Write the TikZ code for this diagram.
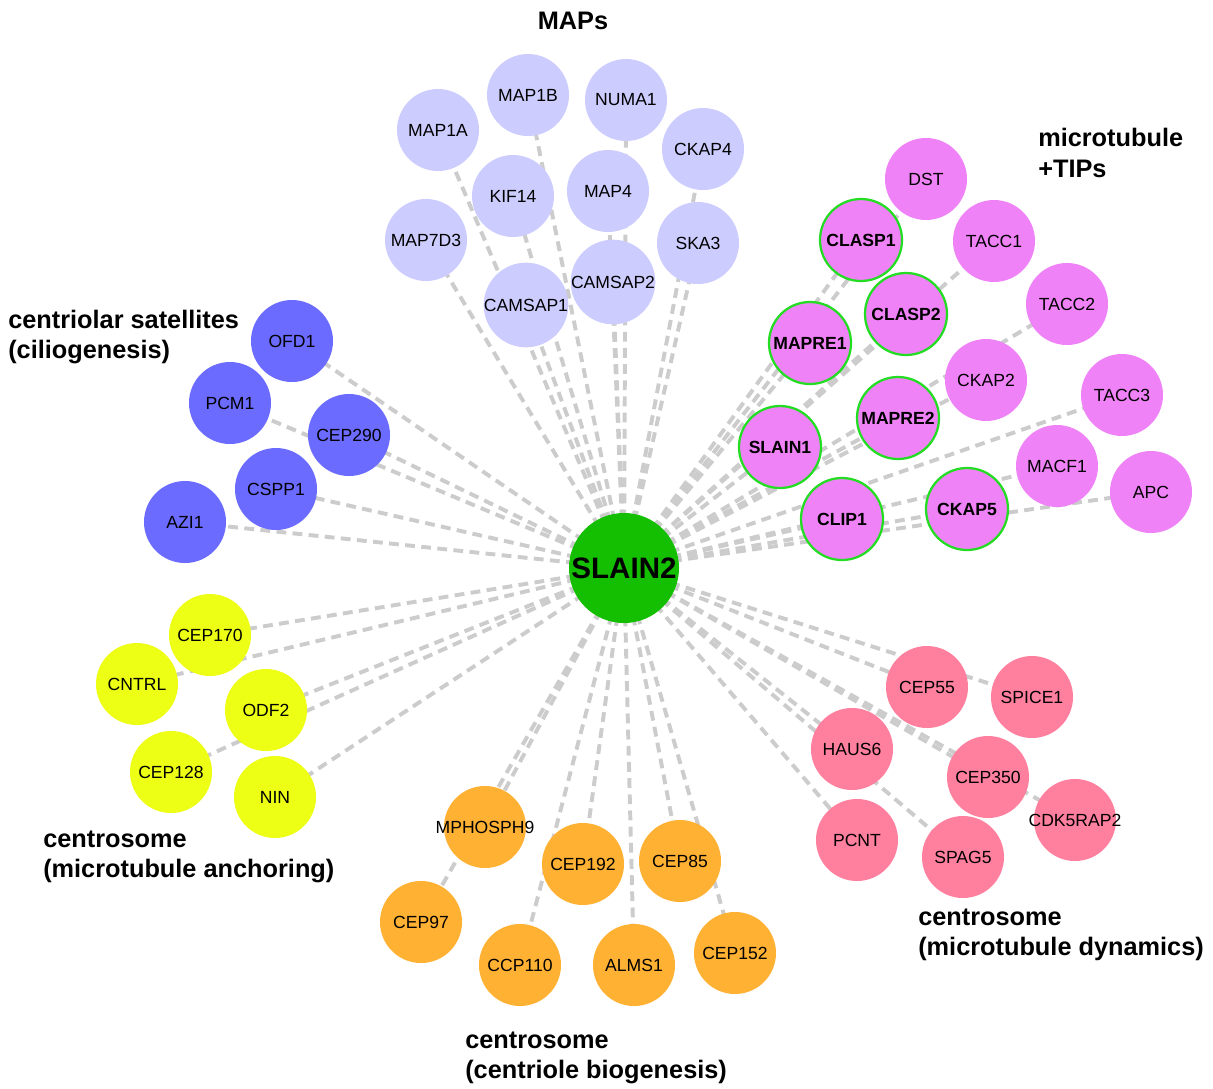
\documentclass[tikz,border=0pt]{standalone}
\usepackage{fontspec}
\setmainfont{Liberation Sans}
\usetikzlibrary{backgrounds}

\definecolor{mapcol}{HTML}{CCCCFF}
\definecolor{satcol}{HTML}{6B6BFF}
\definecolor{tipcol}{HTML}{EF82F7}
\definecolor{anccol}{HTML}{EEFF16}
\definecolor{biocol}{HTML}{FFB133}
\definecolor{dyncol}{HTML}{FF7F9E}
\definecolor{hubcol}{HTML}{14BE00}
\definecolor{ringcol}{HTML}{22DD22}
\definecolor{linkcol}{HTML}{CCCCCC}

\begin{document}
\begin{tikzpicture}
	[x=0.025cm, y=-0.025cm,
	gene/.style = {circle, inner sep=0pt, minimum size=2.05cm, font=\fontsize{12.5}{14}\selectfont},
	map/.style = {gene, fill=mapcol},
	sat/.style = {gene, fill=satcol},
	tip/.style = {gene, fill=tipcol},
	tipb/.style = {tip, draw=ringcol, line width=1.6pt, font=\fontsize{12.5}{14}\selectfont\bfseries},
	anc/.style = {gene, fill=anccol},
	bio/.style = {gene, fill=biocol},
	dyn/.style = {gene, fill=dyncol},
	hub/.style = {circle, inner sep=0pt, minimum size=2.75cm, fill=hubcol, font=\fontsize{21}{24}\selectfont\bfseries},
	link/.style = {draw=linkcol, line width=2.8pt, dash pattern=on 7pt off 4.5pt},
	group/.style = {align=left, anchor=west, inner sep=0pt, font=\fontsize{18}{21.5}\selectfont\bfseries}]
	\useasboundingbox (0,0) rectangle (1213,1088);
	\node[hub] (SLAIN2) at (624,568) {SLAIN2};
	% MAPs
	\node[map] (MAP1B) at (528,95) {MAP1B};
	\node[map] (NUMA1) at (626,100) {NUMA1};
	\node[map] (MAP1A) at (438,130) {MAP1A};
	\node[map] (CKAP4) at (703,149) {CKAP4};
	\node[map] (KIF14) at (513,196) {KIF14};
	\node[map] (MAP4) at (608,191) {MAP4};
	\node[map] (MAP7D3) at (426,240) {MAP7D3};
	\node[map] (SKA3) at (698,243) {SKA3};
	\node[map] (CAMSAP2) at (613,282) {CAMSAP2};
	\node[map] (CAMSAP1) at (526,305) {CAMSAP1};
	% centriolar satellites
	\node[sat] (OFD1) at (292,341) {OFD1};
	\node[sat] (PCM1) at (230,403) {PCM1};
	\node[sat] (CEP290) at (349,435) {CEP290};
	\node[sat] (CSPP1) at (276,489) {CSPP1};
	\node[sat] (AZI1) at (185,522) {AZI1};
	% +TIPs
	\node[tip] (DST) at (926,179) {DST};
	\node[tipb] (CLASP1) at (861,240) {CLASP1};
	\node[tip] (TACC1) at (994,241) {TACC1};
	\node[tipb] (CLASP2) at (906,314) {CLASP2};
	\node[tip] (TACC2) at (1067,304) {TACC2};
	\node[tipb] (MAPRE1) at (810,343) {MAPRE1};
	\node[tip] (CKAP2) at (986,380) {CKAP2};
	\node[tipb] (MAPRE2) at (898,418) {MAPRE2};
	\node[tip] (TACC3) at (1122,395) {TACC3};
	\node[tipb] (SLAIN1) at (780,447) {SLAIN1};
	\node[tip] (MACF1) at (1057,466) {MACF1};
	\node[tip] (APC) at (1151,492) {APC};
	\node[tipb] (CLIP1) at (842,519) {CLIP1};
	\node[tipb] (CKAP5) at (967,509) {CKAP5};
	% anchoring
	\node[anc] (CEP170) at (210,635) {CEP170};
	\node[anc] (CNTRL) at (137,684) {CNTRL};
	\node[anc] (ODF2) at (266,710) {ODF2};
	\node[anc] (CEP128) at (171,772) {CEP128};
	\node[anc] (NIN) at (275,797) {NIN};
	% biogenesis
	\node[bio] (MPHOSPH9) at (485,827) {\makebox[0pt]{MPHOSPH9}};
	\node[bio] (CEP192) at (583,864) {CEP192};
	\node[bio] (CEP85) at (680,861) {CEP85};
	\node[bio] (CEP97) at (421,922) {CEP97};
	\node[bio] (CCP110) at (520,965) {CCP110};
	\node[bio] (ALMS1) at (634,965) {ALMS1};
	\node[bio] (CEP152) at (735,953) {CEP152};
	% dynamics
	\node[dyn] (CEP55) at (927,687) {CEP55};
	\node[dyn] (SPICE1) at (1032,697) {SPICE1};
	\node[dyn] (HAUS6) at (852,749) {HAUS6};
	\node[dyn] (CEP350) at (988,777) {CEP350};
	\node[dyn] (CDK5RAP2) at (1075,820) {\makebox[0pt]{CDK5RAP2}};
	\node[dyn] (PCNT) at (857,840) {PCNT};
	\node[dyn] (SPAG5) at (963,857) {SPAG5};
	% group titles
	\node[font=\fontsize{18}{21.5}\selectfont\bfseries] (maps) at (573,21) {MAPs};
	\node[group] (tips) at (1038,153) {microtubule\\+TIPs};
	\node[group] (sats) at (8,337) {centriolar satellites\\(ciliogenesis)};
	\node[group] (ancs) at (43,857) {centrosome\\(microtubule anchoring)};
	\node[group] (bios) at (465,1058) {centrosome\\(centriole biogenesis)};
	\node[group] (dyns) at (918,935) {centrosome\\(microtubule dynamics)};
	\begin{scope}[on background layer]
	\draw[link] (SLAIN2.center) -- (MAP1B.center);
	\draw[link] (SLAIN2.center) -- (NUMA1.center);
	\draw[link] (SLAIN2.center) -- (MAP1A.center);
	\draw[link] (SLAIN2.center) -- (CKAP4.center);
	\draw[link] (SLAIN2.center) -- (KIF14.center);
	\draw[link] (SLAIN2.center) -- (MAP4.center);
	\draw[link] (SLAIN2.center) -- (MAP7D3.center);
	\draw[link] (SLAIN2.center) -- (SKA3.center);
	\draw[link] (SLAIN2.center) -- (CAMSAP2.center);
	\draw[link] (SLAIN2.center) -- (CAMSAP1.center);
	\draw[link] (SLAIN2.center) -- (OFD1.center);
	\draw[link] (SLAIN2.center) -- (PCM1.center);
	\draw[link] (SLAIN2.center) -- (CEP290.center);
	\draw[link] (SLAIN2.center) -- (CSPP1.center);
	\draw[link] (SLAIN2.center) -- (AZI1.center);
	\draw[link] (SLAIN2.center) -- (DST.center);
	\draw[link] (SLAIN2.center) -- (CLASP1.center);
	\draw[link] (SLAIN2.center) -- (TACC1.center);
	\draw[link] (SLAIN2.center) -- (CLASP2.center);
	\draw[link] (SLAIN2.center) -- (TACC2.center);
	\draw[link] (SLAIN2.center) -- (MAPRE1.center);
	\draw[link] (SLAIN2.center) -- (CKAP2.center);
	\draw[link] (SLAIN2.center) -- (MAPRE2.center);
	\draw[link] (SLAIN2.center) -- (TACC3.center);
	\draw[link] (SLAIN2.center) -- (SLAIN1.center);
	\draw[link] (SLAIN2.center) -- (MACF1.center);
	\draw[link] (SLAIN2.center) -- (APC.center);
	\draw[link] (SLAIN2.center) -- (CLIP1.center);
	\draw[link] (SLAIN2.center) -- (CKAP5.center);
	\draw[link] (SLAIN2.center) -- (CEP170.center);
	\draw[link] (SLAIN2.center) -- (CNTRL.center);
	\draw[link] (SLAIN2.center) -- (ODF2.center);
	\draw[link] (SLAIN2.center) -- (CEP128.center);
	\draw[link] (SLAIN2.center) -- (NIN.center);
	\draw[link] (SLAIN2.center) -- (MPHOSPH9.center);
	\draw[link] (SLAIN2.center) -- (CEP192.center);
	\draw[link] (SLAIN2.center) -- (CEP85.center);
	\draw[link] (SLAIN2.center) -- (CEP97.center);
	\draw[link] (SLAIN2.center) -- (CCP110.center);
	\draw[link] (SLAIN2.center) -- (ALMS1.center);
	\draw[link] (SLAIN2.center) -- (CEP152.center);
	\draw[link] (SLAIN2.center) -- (CEP55.center);
	\draw[link] (SLAIN2.center) -- (SPICE1.center);
	\draw[link] (SLAIN2.center) -- (HAUS6.center);
	\draw[link] (SLAIN2.center) -- (CEP350.center);
	\draw[link] (SLAIN2.center) -- (CDK5RAP2.center);
	\draw[link] (SLAIN2.center) -- (PCNT.center);
	\draw[link] (SLAIN2.center) -- (SPAG5.center);
	\end{scope}
\end{tikzpicture}
\end{document}
